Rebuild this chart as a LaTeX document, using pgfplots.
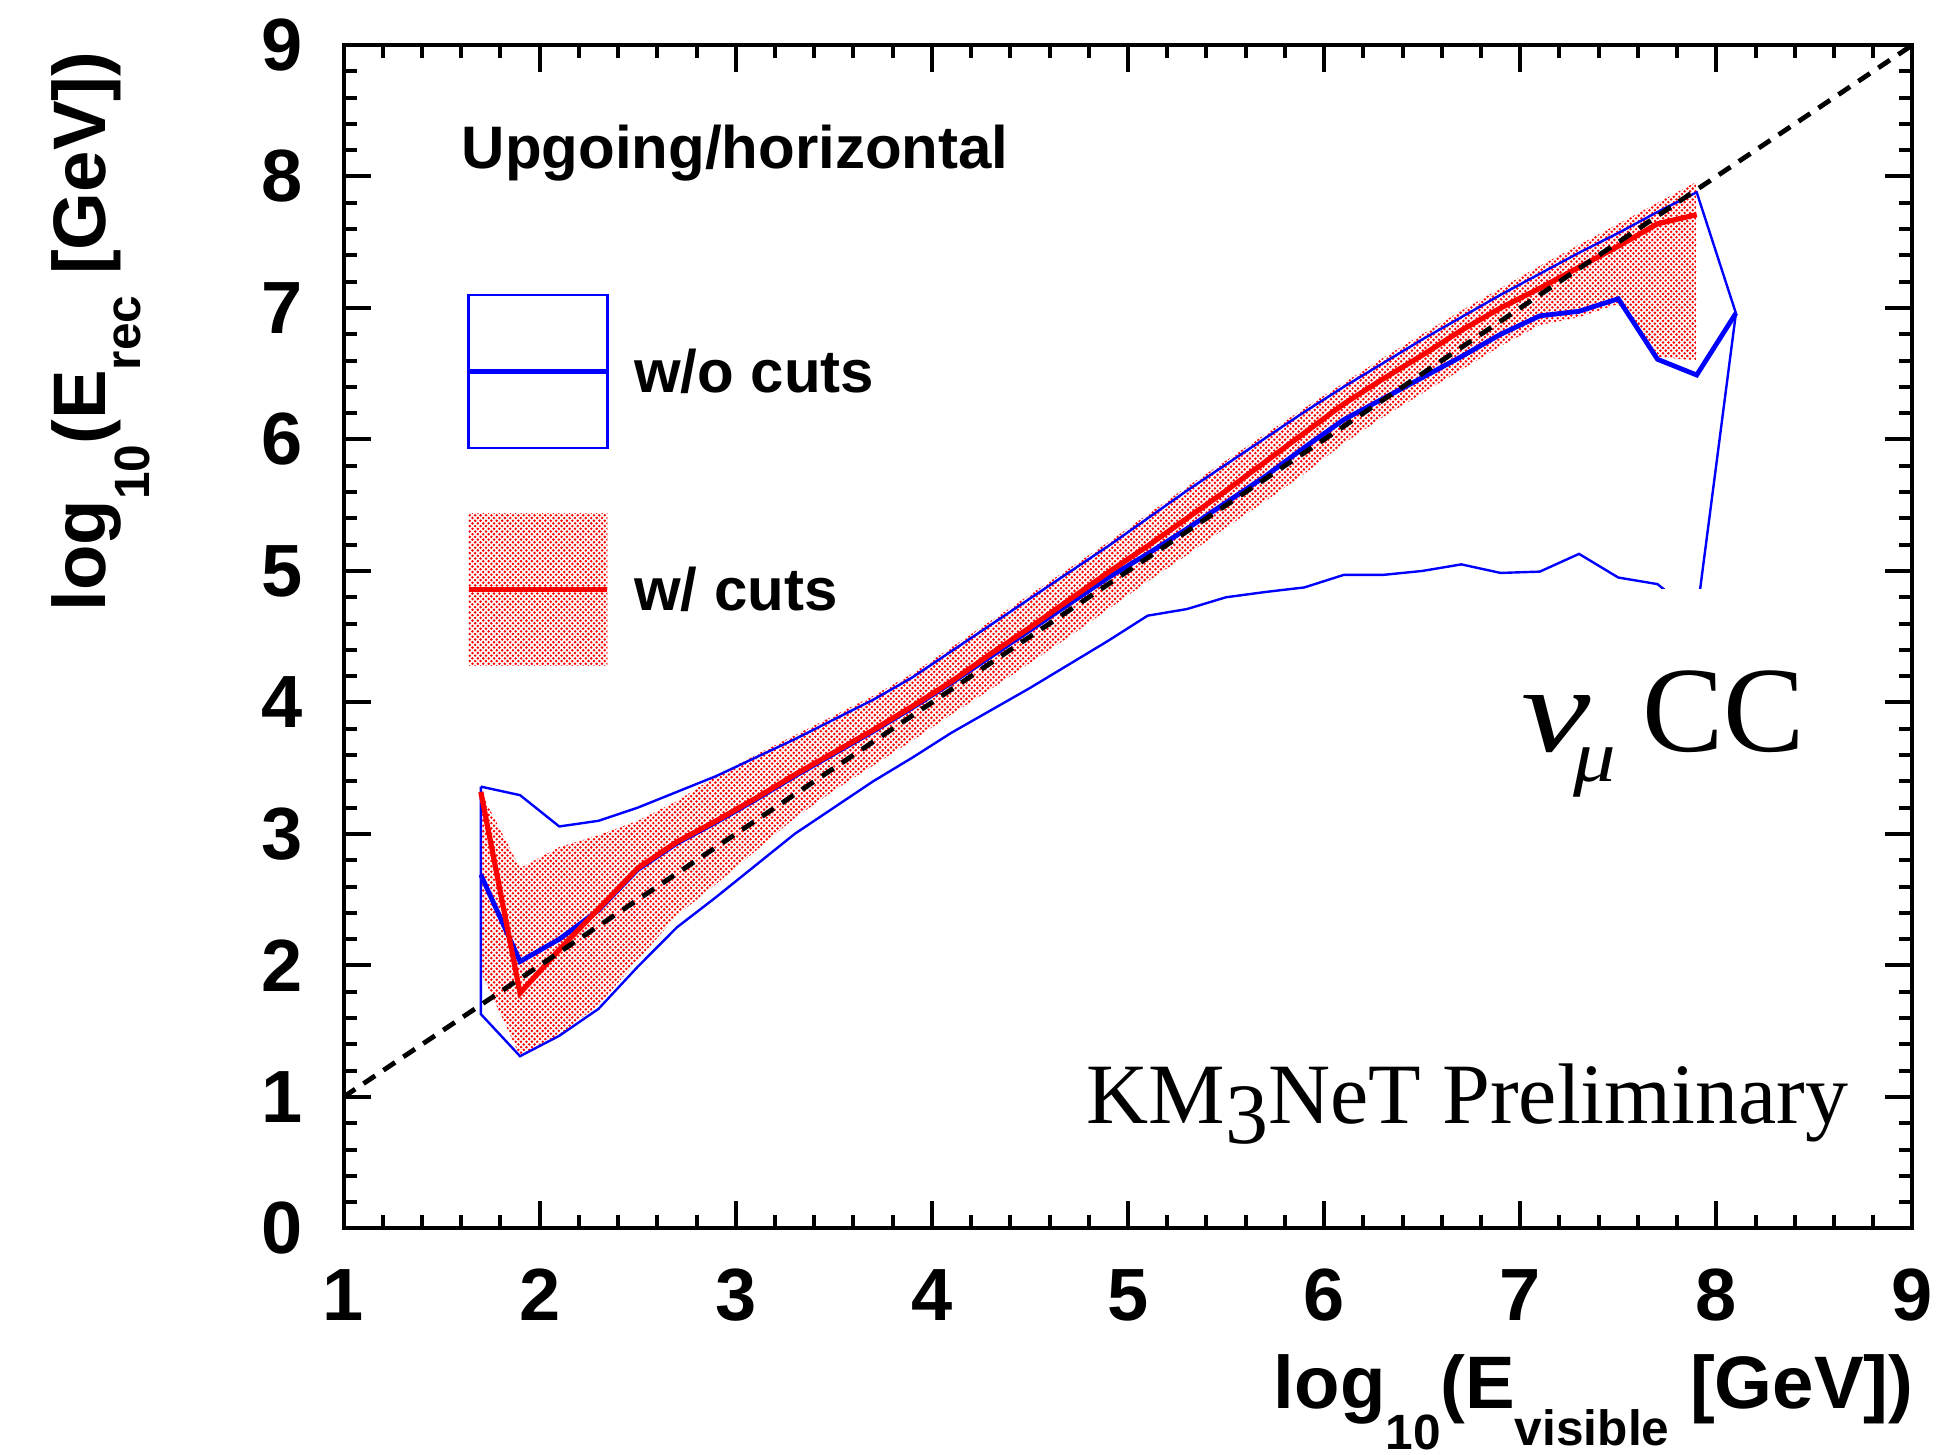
\documentclass[border=0pt]{standalone}
\usepackage{fontspec}
\usepackage{pgfplots}
\pgfplotsset{compat=1.18}
\usetikzlibrary{patterns}
\newfontfamily\hb{Liberation Sans}
\newfontfamily\tms{Liberation Serif}
\newcommand\fs[1]{\fontsize{#1}{#1}\selectfont}
\newcommand\HB[1]{\hb\bfseries\fs{#1}}
\pgfdeclarepatternformonly{rootdots}{\pgfqpoint{-0.4pt}{-0.4pt}}{\pgfqpoint{1.1pt}{1.1pt}}{\pgfqpoint{1.35pt}{1.35pt}}{%
  \pgfpathcircle{\pgfqpoint{0pt}{0pt}}{0.35pt}%
  \pgfpathcircle{\pgfqpoint{0.675pt}{0.675pt}}{0.35pt}%
  \pgfusepath{fill}}
\begin{document}
\begin{tikzpicture}
\begin{axis}[
  scale only axis, width=392.25pt, height=295.9pt,
  xmin=1, xmax=9, ymin=0, ymax=9,
  xtick={1,...,9}, ytick={0,...,9},
  minor tick num=4,
  tick align=inside,
  major tick length=6.8pt, minor tick length=3.3pt,
  every tick/.style={black, line width=1pt},
  axis line style={line width=1pt},
  clip=false,
  /pgf/number format/assume math mode=true,
  ticklabel style={font=\HB{18.5}},
  xticklabel style={anchor=north, inner sep=0pt, yshift=-10pt},
  yticklabel style={anchor=east, inner sep=0pt, xshift=-10pt},
]
\coordinate (SW) at (rel axis cs:0,0);
\coordinate (NE) at (rel axis cs:1,1);
% w/ cuts band (fill)
\addplot[draw=none, pattern=rootdots, pattern color=red] coordinates {
(1.7,3.32)(1.9,2.74)(2.1,2.90)(2.3,2.99)(2.5,3.10)(2.7,3.25)(2.9,3.44)(3.1,3.60)(3.3,3.75)(3.5,3.90)(3.7,4.05)(3.9,4.22)(4.1,4.42)(4.3,4.62)(4.5,4.82)(4.7,5.02)(4.9,5.22)(5.1,5.43)(5.3,5.64)(5.5,5.84)(5.7,6.04)(5.9,6.24)(6.1,6.43)(6.3,6.62)(6.5,6.80)(6.7,6.98)(6.9,7.15)(7.1,7.32)(7.3,7.48)(7.5,7.64)(7.7,7.80)(7.9,7.96)
(7.9,6.60)(7.7,6.63)(7.5,7.03)(7.3,6.93)(7.1,6.87)(6.9,6.71)(6.7,6.53)(6.5,6.35)(6.3,6.17)(6.1,5.97)(5.9,5.74)(5.7,5.53)(5.5,5.33)(5.3,5.12)(5.1,4.92)(4.9,4.71)(4.7,4.50)(4.5,4.30)(4.3,4.10)(4.1,3.91)(3.9,3.71)(3.7,3.52)(3.5,3.33)(3.3,3.12)(3.1,2.87)(2.9,2.62)(2.7,2.38)(2.5,2.04)(2.3,1.70)(2.1,1.47)(1.9,1.31)(1.7,1.95)(1.7,3.32)};
% w/o cuts band (outline)
\addplot[blue, line width=0.6pt, line join=miter] coordinates {
(1.7,3.36)(1.9,3.295)(2.1,3.057)(2.3,3.10)(2.5,3.20)(2.7,3.32)(2.9,3.44)(3.1,3.58)(3.3,3.72)(3.5,3.87)(3.7,4.02)(3.9,4.19)(4.1,4.39)(4.3,4.59)(4.5,4.79)(4.7,4.99)(4.9,5.19)(5.1,5.40)(5.3,5.61)(5.5,5.81)(5.7,6.01)(5.9,6.21)(6.1,6.40)(6.3,6.58)(6.5,6.76)(6.7,6.93)(6.9,7.10)(7.1,7.26)(7.3,7.42)(7.5,7.57)(7.7,7.73)(7.9,7.88)(8.1,6.96)
(7.9,4.66)(7.7,4.90)(7.5,4.95)(7.3,5.13)(7.1,4.995)(6.9,4.985)(6.7,5.05)(6.5,5.00)(6.3,4.97)(6.1,4.97)(5.9,4.875)(5.7,4.84)(5.5,4.80)(5.3,4.71)(5.1,4.66)(4.9,4.47)(4.7,4.29)(4.5,4.11)(4.3,3.94)(4.1,3.77)(3.9,3.58)(3.7,3.40)(3.5,3.20)(3.3,3.00)(3.1,2.76)(2.9,2.52)(2.7,2.29)(2.5,1.99)(2.3,1.67)(2.1,1.465)(1.9,1.31)(1.7,1.63)(1.7,3.36)};
% w/o cuts mean
\addplot[blue, line width=1.2pt] coordinates {
(1.7,2.69)(1.9,2.03)(2.1,2.20)(2.3,2.42)(2.5,2.73)(2.7,2.93)(2.9,3.09)(3.1,3.26)(3.3,3.44)(3.5,3.61)(3.7,3.78)(3.9,3.96)(4.1,4.15)(4.3,4.35)(4.5,4.55)(4.7,4.75)(4.9,4.95)(5.1,5.13)(5.3,5.32)(5.5,5.52)(5.7,5.72)(5.9,5.94)(6.1,6.15)(6.3,6.31)(6.5,6.47)(6.7,6.63)(6.9,6.80)(7.1,6.94)(7.3,6.975)(7.5,7.07)(7.7,6.61)(7.9,6.49)(8.1,6.96)};
% w/ cuts mean
\addplot[red, line width=1.3pt] coordinates {
(1.7,3.32)(1.9,1.79)(2.1,2.12)(2.3,2.43)(2.5,2.74)(2.7,2.94)(2.9,3.10)(3.1,3.27)(3.3,3.45)(3.5,3.62)(3.7,3.79)(3.9,3.97)(4.1,4.16)(4.3,4.37)(4.5,4.57)(4.7,4.78)(4.9,4.99)(5.1,5.19)(5.3,5.40)(5.5,5.61)(5.7,5.83)(5.9,6.05)(6.1,6.27)(6.3,6.46)(6.5,6.64)(6.7,6.83)(6.9,7.00)(7.1,7.15)(7.3,7.31)(7.5,7.47)(7.7,7.64)(7.9,7.71)};
% diagonal
\addplot[black, line width=1.2pt, dash pattern=on 3.5pt off 2.5pt] coordinates {(1,1)(9,9)};
% white box behind the label
\fill[white] (axis cs:6.95,4.865) rectangle (axis cs:8.6,3.1);
% legend
\node[anchor=base west, inner sep=0pt, font=\HB{15}] at (axis cs:1.599,8.058) {Upgoing/horizontal};
\draw[blue, line width=0.6pt] (axis cs:1.638,5.933) rectangle (axis cs:2.345,7.097);
\draw[blue, line width=1.2pt] (axis cs:1.638,6.516) -- (axis cs:2.345,6.516);
\fill[pattern=rootdots, pattern color=red] (axis cs:1.638,4.281) rectangle (axis cs:2.345,5.439);
\draw[red, line width=1.3pt] (axis cs:1.638,4.862) -- (axis cs:2.345,4.862);
\node[anchor=base west, inner sep=0pt, font=\HB{15}] at (axis cs:2.478,6.355) {w/o cuts};
\node[anchor=base west, inner sep=0pt, font=\HB{15}] at (axis cs:2.478,4.697) {w/ cuts};
% annotations
\node[anchor=base west, inner sep=0pt] at (axis cs:7.0,3.626) {\tms\fs{30.5}\scalebox{1.28}[1]{\textit{ν}}};
\node[anchor=base west, inner sep=0pt] at (axis cs:7.27,3.398) {\tms\fs{18.4}\scalebox{1.15}[1]{\textit{μ}}};
\node[anchor=base west, inner sep=0pt] at (axis cs:7.62,3.626) {\tms\fs{30.5}CC};
\node[anchor=base west, inner sep=0pt] at (axis cs:4.785,0.800) {\tms\fs{21.5}KM\raisebox{-0.23em}{3}NeT Preliminary};
% axis titles
\node[anchor=base east, inner sep=0pt, font=\HB{18.6}] at (rel axis cs:1,0) [xshift=0.4pt, yshift=-44.9pt]
  {log\raisebox{-10.4pt}{\fs{12.4}10}(E\raisebox{-9.4pt}{\fs{12.4}visible} [GeV])};
\node[xshift=-59.6pt, yshift=-1.5pt, rotate=90, anchor=base east, inner sep=0pt, font=\HB{18.6}] at (rel axis cs:0,1)
  {log\raisebox{-11pt}{\fs{12.4}10}(E\raisebox{-8.8pt}{\fs{12.4}rec} [GeV])};
\end{axis}
\pgfresetboundingbox
\path[use as bounding box] ([shift={(-85.9pt,-56.6pt)}]SW) rectangle ([shift={(8.4pt,11.25pt)}]NE);
\end{tikzpicture}
\end{document}
